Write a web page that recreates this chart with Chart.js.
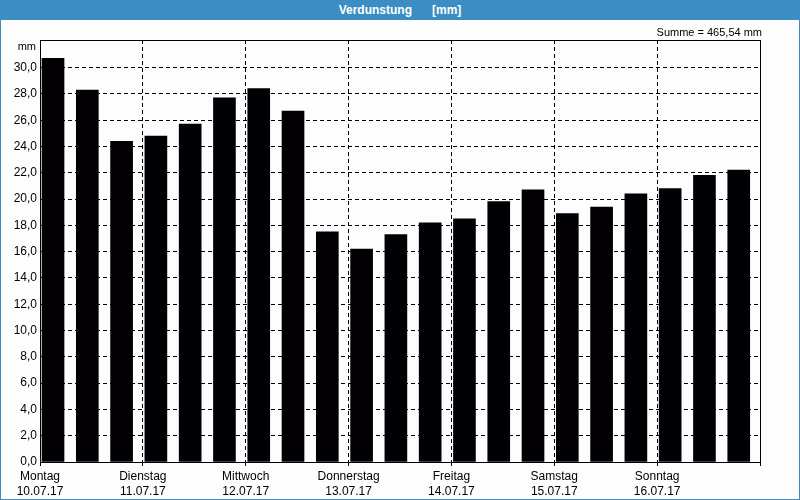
<!DOCTYPE html>
<html>
<head>
<meta charset="utf-8">
<script src="https://cdn.jsdelivr.net/npm/chart.js@4/dist/chart.umd.min.js"></script>
<style>
    html, body { margin: 0; padding: 0; background: #fcfdfc; }
    #frame {
        position: relative; width: 800px; height: 500px; box-sizing: border-box;
        border: 1px solid #3b8dc3; border-top: none; overflow: hidden;
    }
    #title-bar {
        position: absolute; left: 0; top: 0; width: 800px; height: 20px; margin-left: -1px;
        background: #3b8dc3; color: #fff; font: bold 12px "Liberation Sans", Arial, sans-serif;
        text-align: center; line-height: 20px; white-space: pre; z-index: 2;
    }
    #chart-wrap { position: absolute; left: -1px; top: 0; width: 800px; height: 500px; }
</style>
</head>
<body>
<div id="frame">
    <div id="title-bar">Verdunstung      [mm]</div>
    <div id="chart-wrap"><canvas id="evap-chart" width="800" height="500"></canvas></div>
</div>
<script>
// Day labels (one per day, 3 readings per day)
const dayNames = ['Montag', 'Dienstag', 'Mittwoch', 'Donnerstag', 'Freitag', 'Samstag', 'Sonntag'];
const dayDates = ['10.07.17', '11.07.17', '12.07.17', '13.07.17', '14.07.17', '15.07.17', '16.07.17'];
const readingsPerDay = 3;

// Verdunstung per reading [mm]
const evaporation = [
    30.7, 28.3, 24.4,
    24.8, 25.7, 27.7,
    28.4, 26.7, 17.5,
    16.2, 17.3, 18.2,
    18.5, 19.8, 20.7,
    18.9, 19.4, 20.4,
    20.8, 21.8, 22.2
];
const sumText = 'Summe = 465,54 mm';
const yUnit = 'mm';

const fontFamily = '"Liberation Sans", Arial, sans-serif';

const fmtComma = v => v.toFixed(1).replace('.', ',');

// frame + small texts drawn on top of the chart
const framePlugin = {
    id: 'frame',
    afterDraw(chart) {
        const { ctx, chartArea: a } = chart;
        ctx.save();
        ctx.strokeStyle = '#000';
        ctx.lineWidth = 1;
        ctx.setLineDash([]);
        ctx.strokeRect(a.left + 0.5, a.top + 0.5, a.right - a.left, a.bottom - a.top);
        ctx.fillStyle = '#000';
        ctx.font = '11px ' + fontFamily;
        ctx.textBaseline = 'middle';
        ctx.textAlign = 'right';
        ctx.fillText(sumText, a.right + 2, 33);
        ctx.fillText(yUnit, a.left - 4, 47);
        ctx.restore();
    }
};

const points = evaporation.map((v, i) => ({ x: i + 0.38, y: v }));

new Chart(document.getElementById('evap-chart'), {
    type: 'bar',
    data: {
        datasets: [{
            data: points,
            backgroundColor: '#030005',
            borderWidth: 0,
            barThickness: 22
        }]
    },
    options: {
        responsive: false,
        animation: false,
        layout: { padding: { left: 0, right: 40, top: 40, bottom: 0 } },
        plugins: { legend: { display: false }, tooltip: { enabled: false }, title: { display: false } },
        scales: {
            x: {
                type: 'linear',
                offset: false,
                min: 0,
                max: evaporation.length,
                afterFit: s => { s.height = 38; },
                afterBuildTicks: s => {
                    s.ticks = [];
                    for (let d = 0; d <= dayNames.length; d++) s.ticks.push({ value: d * readingsPerDay });
                },
                grid: {
                    offset: false,
                    color: '#000',
                    borderDash: [4, 3],
                    tickLength: 4,
                    tickBorderDash: [],
                    tickColor: '#000'
                },
                border: { display: false, dash: [4, 3] },
                ticks: {
                    autoSkip: false,
                    maxRotation: 0,
                    padding: 3,
                    color: '#000',
                    font: { family: fontFamily, size: 12, lineHeight: 1.25 },
                    callback: v => {
                        const d = Math.round(v / readingsPerDay);
                        return d < dayNames.length ? [dayNames[d], dayDates[d]] : '';
                    }
                }
            },
            y: {
                min: 0,
                max: 32.1,
                afterFit: s => { s.width = 40; },
                afterBuildTicks: s => {
                    s.ticks = [];
                    for (let v = 0; v <= 30; v += 2) s.ticks.push({ value: v });
                },
                grid: { color: '#000', borderDash: [4, 3], drawTicks: false },
                border: { display: false, dash: [4, 3] },
                ticks: {
                    padding: 3,
                    color: '#000',
                    font: { family: fontFamily, size: 12 },
                    callback: v => fmtComma(v)
                }
            }
        }
    },
    plugins: [framePlugin]
});
</script>
</body>
</html>
